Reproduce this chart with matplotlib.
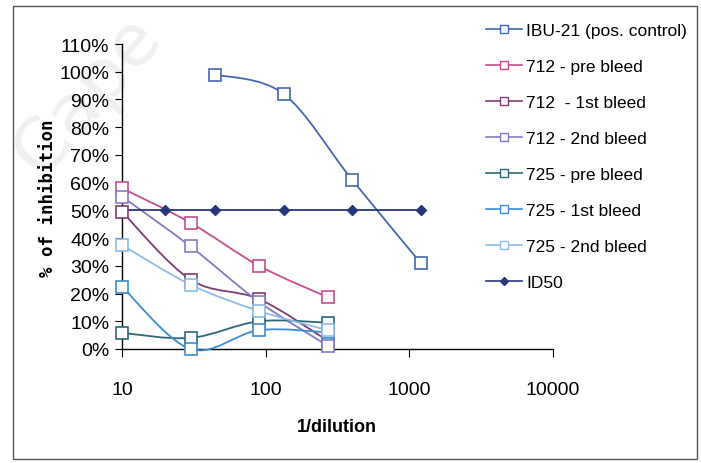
import numpy as np
import matplotlib
matplotlib.use("Agg")
import matplotlib.pyplot as plt
from matplotlib.path import Path
from matplotlib.patches import PathPatch, Rectangle
from matplotlib.lines import Line2D
from matplotlib.ticker import FixedLocator, NullLocator

# data
sera_dil = [10, 30, 90, 270]
ibu_dil = [44.4, 133.3, 400, 1200]
id50_dil = [10, 20, 44.4, 133.3, 400, 1200]

ibu21 = [0.99, 0.92, 0.61, 0.31]
s712_pre = [0.58, 0.455, 0.30, 0.187]
s712_1st = [0.495, 0.25, 0.18, 0.03]
s712_2nd = [0.55, 0.37, 0.17, 0.012]
s725_pre = [0.058, 0.04, 0.10, 0.095]
s725_1st = [0.225, 0.0, 0.068, 0.06]
s725_2nd = [0.375, 0.232, 0.137, 0.068]
id50 = [0.5, 0.5, 0.5, 0.5, 0.5, 0.5]

labels = ["IBU-21 (pos. control)", "712 - pre bleed", "712  - 1st bleed",
          "712 - 2nd bleed", "725 - pre bleed", "725 - 1st bleed",
          "725 - 2nd bleed", "ID50"]
colors = ["#4467b0", "#c44d8c", "#7b3d72", "#857ac4", "#2e6677",
          "#3b8cd2", "#8fbbe8", "#27377a"]

narrow = ["Liberation Sans Narrow", "Liberation Sans", "DejaVu Sans"]


def smooth_path(xs, ys):
    # excel-like smoothed line, bezier control points in log-x space
    lx = np.log10(xs)
    ys = np.asarray(ys, float)
    n = len(lx)
    verts = [(xs[0], ys[0])]
    codes = [Path.MOVETO]
    for i in range(n - 1):
        i0 = max(i - 1, 0)
        i3 = min(i + 2, n - 1)
        c1 = (lx[i] + (lx[i + 1] - lx[i0]) / 6, ys[i] + (ys[i + 1] - ys[i0]) / 6)
        c2 = (lx[i + 1] - (lx[i3] - lx[i]) / 6, ys[i + 1] - (ys[i3] - ys[i]) / 6)
        verts += [(10 ** c1[0], c1[1]), (10 ** c2[0], c2[1]), (xs[i + 1], ys[i + 1])]
        codes += [Path.CURVE4] * 3
    return Path(verts, codes)


fig = plt.figure(figsize=(7.01, 4.64), dpi=100)
W, H = 701, 464

# faint scan watermark
fig.text(88 / W, 1 - 96 / H, "Cape", rotation=49, ha="center", va="center",
         fontsize=52, color="#f0f0f0", family="DejaVu Sans", zorder=-5)

ax = fig.add_axes([122 / W, (H - 350) / H, (553 - 122) / W, (350 - 45) / H])
ax.patch.set_alpha(0)
ax.set_xscale("log")
ax.set_xlim(10, 10000)
ax.set_ylim(0, 1.10)

series = [(ibu_dil, ibu21), (sera_dil, s712_pre), (sera_dil, s712_1st),
          (sera_dil, s712_2nd), (sera_dil, s725_pre), (sera_dil, s725_1st),
          (sera_dil, s725_2nd)]

for (xs, ys), c in zip(series, colors[:7]):
    ax.add_patch(PathPatch(smooth_path(xs, ys), fc="none", ec=c, lw=1.3,
                           clip_on=False, zorder=3))
    ax.plot(xs, ys, "s", ms=8, mfc="white", mec=c, mew=1.2, clip_on=False,
            zorder=4)

ax.plot(id50_dil, id50, "-D", color=colors[7], ms=5, lw=1.3, clip_on=False,
        zorder=3)

for s in ["top", "right"]:
    ax.spines[s].set_visible(False)
ax.spines["left"].set_linewidth(1.0)
ax.spines["bottom"].set_linewidth(1.0)

yt = np.arange(0, 1.101, 0.1)
ax.yaxis.set_major_locator(FixedLocator(yt))
ax.set_yticklabels(["%d%%" % round(v * 100) for v in yt], family=narrow,
                   fontsize=14)
ax.xaxis.set_major_locator(FixedLocator([10, 100, 1000, 10000]))
ax.xaxis.set_minor_locator(NullLocator())
ax.set_xticklabels(["10", "100", "1000", "10000"], family=narrow, fontsize=14)
ax.tick_params(axis="y", direction="out", length=5, pad=4)
ax.tick_params(axis="x", direction="out", length=6, pad=17)

fig.text(48 / W, 1 - 198 / H, "% of inhibition", rotation=90, ha="center",
         va="center", fontsize=12.5, fontweight="bold",
         family="DejaVu Sans Mono")
fig.text(337 / W, 1 - 428 / H, "1/dilution", ha="center", va="center",
         fontsize=13, fontweight="bold", family="Liberation Sans")

handles = []
for i, c in enumerate(colors):
    if i < 7:
        handles.append(Line2D([], [], color=c, lw=1.2, marker="s", ms=6,
                              mfc="white", mec=c, mew=1.0))
    else:
        handles.append(Line2D([], [], color=c, lw=1.2, marker="D", ms=4))
leg = fig.legend(handles, labels, loc="upper left",
                 bbox_to_anchor=(479 / W, 1 - 17 / H), frameon=False,
                 prop={"family": narrow, "size": 12.5}, handlelength=2.07,
                 handletextpad=0.25, labelspacing=1.2, borderaxespad=0)

fig.patches.append(Rectangle((13 / W, 1 - 460 / H), 684 / W, 453 / H,
                             transform=fig.transFigure, fill=False,
                             ec="#555555", lw=1.0))

fig.savefig("out.png", dpi=100)
